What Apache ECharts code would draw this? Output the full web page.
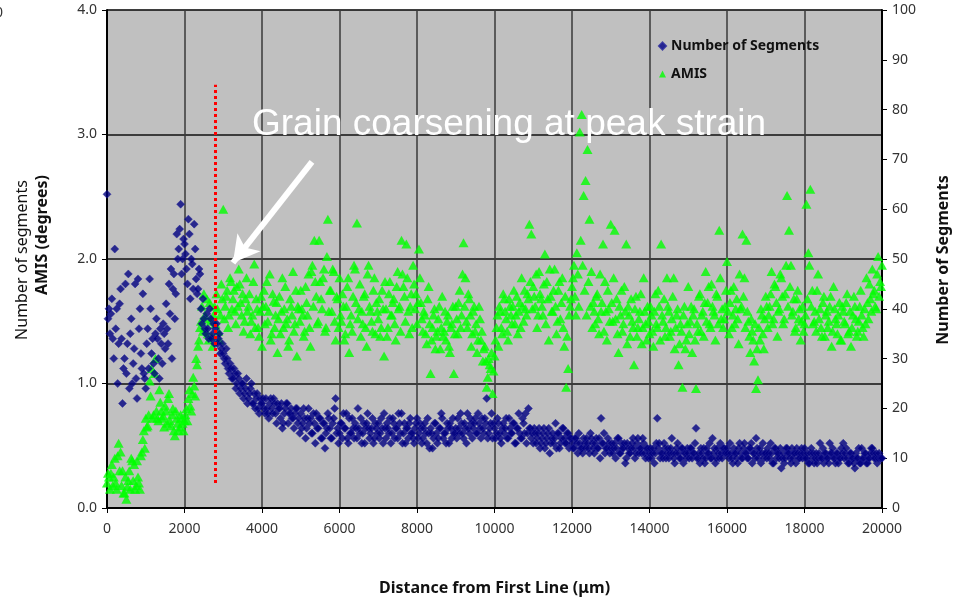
<!DOCTYPE html>
<html>
<head>
<meta charset="utf-8">
<script src="https://cdn.jsdelivr.net/npm/echarts@6/dist/echarts.min.js"></script>
<style>html,body{margin:0;padding:0;background:#fff;}#c{width:967px;height:601px;}</style>
</head>
<body>
<div id="c"></div>
<script>
// Sampling: two interleaved passes, every STEP_UM starting at 0 and at HALF_OFFSET_UM
const STEP_UM = 50;
const HALF_OFFSET_UM = 25;
const xTicks = [0,2000,4000,6000,8000,10000,12000,14000,16000,18000,20000];
const leftTicks = ['0.0','1.0','2.0','3.0','4.0'];
const rightTicks = [0,10,20,30,40,50,60,70,80,90,100];

// Number of Segments (right axis), pass A: x = 0, 50, 100 ...
const segmentsA = [
63,40,39,34,52,40,33,44,21,30,27,47,35,25,32,26,46,40,28,27,
24,36,46,31,29,35,34,26,33,37,32,36,45,48,44,38,55,52,61,50,
53,48,58,42,49,57,46,44,47,37,38,35,36,40,34,37,36,33,35,32,
31,29,30,27,28,26,27,25,26,24,25,23,26,22,24,21,23,22,20,22,
21,20,22,19,21,20,22,19,21,20,21,17,20,21,19,20,18,19,20,18,
19,17,18,16,20,18,15,17,19,16,18,14,17,15,19,16,14,18,22,16,
15,17,19,16,14,18,15,16,17,14,16,18,15,13,17,16,15,18,14,16,
17,15,16,19,14,16,18,15,17,16,14,17,19,15,13,16,17,15,14,16,
18,15,16,14,17,13,15,16,12,17,15,14,16,18,15,13,16,17,14,15,
16,18,15,17,14,16,19,15,17,16,18,15,17,14,16,18,22,15,17,14,
16,15,17,14,16,15,18,14,16,15,17,13,16,15,14,17,19,15,16,14,
13,15,14,16,13,15,12,14,16,13,15,14,12,15,13,16,14,13,15,14,
13,12,14,11,13,12,14,12,13,11,14,12,13,12,14,18,13,11,12,13,
12,11,13,12,14,11,12,13,10,12,11,13,12,11,14,12,11,13,10,12,
11,10,12,11,18,13,11,10,12,11,10,12,11,9,12,11,10,12,11,10,
11,12,10,11,16,10,9,11,12,10,11,13,10,11,9,12,10,11,12,11,
12,10,11,9,11,10,12,11,10,13,11,10,12,9,11,14,10,12,11,10,
11,12,10,11,9,12,11,10,8,11,10,12,11,9,10,11,12,10,11,10,
12,10,9,11,10,9,11,10,13,10,9,11,10,13,11,10,9,11,10,12,
13,11,10,9,11,10,8,10,12,9,10,11,9,10,11,12,10,11,10,10,
10
];
// Number of Segments, pass B: x = 25, 75, 125 ...
const segmentsB = [
38,35,42,30,36,25,41,34,28,45,33,24,38,29,45,22,36,31,43,26,
33,28,40,34,27,38,30,36,29,35,41,33,39,30,47,43,50,56,47,54,
51,45,55,50,44,52,43,48,40,42,36,39,34,38,35,33,37,34,31,33,
30,32,28,29,26,28,24,27,23,25,22,24,21,23,25,21,20,23,19,21,
22,19,20,18,22,19,21,17,20,18,16,19,21,17,19,18,16,20,17,15,
16,20,14,18,17,15,19,13,16,18,14,17,12,16,18,14,17,20,15,13,
17,14,16,19,13,15,18,14,16,20,15,13,17,16,19,14,16,13,17,15,
14,18,13,16,17,15,13,18,14,16,19,15,13,17,16,14,18,15,13,17,
14,17,13,16,15,18,12,15,14,17,13,16,19,14,15,17,13,16,18,15,
14,16,19,15,17,13,16,18,14,17,15,19,16,18,15,17,14,16,19,17,
14,18,15,13,17,16,14,18,15,17,13,16,19,14,18,15,13,20,16,15,
16,13,15,12,14,16,13,15,11,14,13,17,15,12,14,16,13,15,12,14,
12,14,13,15,12,11,13,14,12,15,13,11,14,12,10,13,15,12,14,11,
13,12,10,14,11,13,12,9,13,11,12,14,10,13,11,12,14,11,12,10,
12,11,9,13,12,10,11,13,10,12,11,14,10,11,13,10,12,9,11,12,
10,12,11,13,10,11,12,10,9,12,11,10,14,12,10,11,13,10,12,11,
11,13,10,12,11,9,13,10,12,11,10,12,13,11,10,12,11,9,13,11,
10,11,13,9,12,10,11,12,10,9,12,11,10,12,11,9,11,10,12,11,
10,11,9,12,11,10,9,11,10,12,11,10,9,11,12,10,11,9,10,11,
10,12,9,11,10,9,11,10,9,12,10,11,9,10,12,11,10,9,11,10
];

// AMIS in degrees (left axis), pass A: x = 0, 50, 100 ...
const amisA = [
0.20,0.25,0.28,0.18,0.40,0.15,0.52,0.45,0.30,0.12,0.07,0.22,0.15,0.38,0.35,0.18,0.25,0.15,0.45,0.62,
0.72,0.66,1.02,1.12,0.75,1.20,0.72,0.95,0.78,0.74,0.82,0.68,0.92,0.66,0.80,0.58,0.72,0.62,0.75,0.68,
0.70,0.80,0.88,0.82,0.92,0.98,1.20,1.30,1.45,1.62,1.72,1.52,1.40,1.65,1.38,1.55,1.48,1.60,1.35,1.80,
2.40,1.62,1.75,1.55,1.82,1.68,1.58,1.78,1.92,1.65,1.72,1.50,1.85,1.62,1.40,1.55,1.96,1.68,1.45,1.58,
1.30,1.75,1.62,1.50,1.88,1.40,1.66,1.55,1.25,1.70,1.58,1.45,1.78,1.52,1.35,1.62,1.90,1.48,1.22,1.60,
1.75,1.55,1.42,1.65,1.88,1.30,1.95,2.15,1.70,1.50,1.82,1.60,1.92,1.45,2.32,1.75,1.58,1.90,1.35,1.68,
1.85,1.50,1.62,1.40,1.78,1.25,1.55,1.70,1.92,2.29,1.60,1.38,1.48,1.72,1.30,1.95,1.58,1.42,1.85,1.65,
1.52,1.38,1.75,1.22,1.60,1.45,1.82,1.55,1.68,1.35,1.90,1.62,2.15,1.78,1.50,1.85,1.40,1.72,1.95,1.60,
1.48,2.08,1.65,1.42,1.55,1.32,1.78,1.08,1.45,1.60,1.38,1.52,1.28,1.70,1.42,1.35,1.55,1.25,1.48,1.08,
1.62,1.40,1.75,1.55,2.13,1.85,1.45,1.68,1.30,1.58,1.42,1.25,1.62,1.35,1.18,1.30,0.97,1.20,1.12,0.92,
1.22,1.45,1.30,1.58,1.40,1.68,1.52,1.35,1.62,1.48,1.75,1.55,1.40,1.65,1.85,1.50,1.60,1.72,2.28,2.20,
1.78,1.62,1.45,1.90,1.68,1.55,2.04,1.82,1.35,1.70,1.58,1.92,1.40,1.75,1.52,1.85,1.30,0.97,1.12,1.62,
1.78,1.95,1.55,1.88,3.02,3.16,2.51,2.63,2.88,2.32,1.90,1.65,1.48,1.72,1.40,1.58,2.12,1.82,1.35,1.60,
2.28,1.50,2.23,1.68,1.25,1.55,1.42,1.78,2.12,1.62,1.38,1.50,1.15,1.70,1.45,1.58,1.32,1.85,1.48,1.62,
1.40,1.55,1.30,1.72,1.45,1.62,2.12,1.50,1.38,1.85,1.58,1.42,1.70,1.28,1.55,1.15,1.48,0.97,1.62,1.35,
1.78,1.50,1.25,1.60,0.96,1.42,1.72,1.55,1.38,1.90,1.65,1.48,1.80,1.58,1.35,1.70,2.23,1.52,1.45,1.62,
1.98,1.40,1.75,1.55,1.48,1.68,1.32,1.60,2.20,1.85,2.15,1.50,1.25,1.42,1.18,0.96,1.03,1.35,1.55,1.28,
1.70,1.45,1.62,1.90,1.52,1.78,1.38,1.60,1.85,1.48,1.72,2.51,2.23,1.95,1.58,1.42,1.68,1.52,1.35,1.62,
1.48,2.44,2.05,2.56,1.75,1.50,1.42,1.88,1.60,1.38,1.70,1.55,1.45,1.62,1.30,1.78,1.52,1.40,1.65,1.35,
1.58,1.48,1.72,1.42,1.30,1.55,1.62,1.38,1.50,1.75,1.45,1.60,1.85,1.52,1.68,1.92,1.75,1.60,2.02,1.82,
1.95
];
// AMIS, pass B: x = 25, 75, 125 ...
const amisB = [
0.28,0.15,0.35,0.25,0.20,0.42,0.30,0.18,0.12,0.25,0.17,0.30,0.40,0.22,0.15,0.38,0.20,0.42,0.55,0.48,
0.65,0.75,0.90,0.72,1.08,0.78,0.70,0.85,0.72,0.65,0.78,0.88,0.70,0.75,0.62,0.78,0.68,0.65,0.72,0.62,
0.75,0.70,0.95,0.78,1.05,0.90,1.15,1.35,1.50,1.42,1.55,1.68,1.35,1.50,1.30,1.62,1.72,1.42,1.55,1.68,
1.52,1.70,1.45,1.85,1.60,1.75,1.48,1.62,1.80,1.55,1.42,1.68,1.58,1.72,1.50,1.82,1.45,1.60,1.38,1.70,
1.62,1.48,1.82,1.58,1.35,1.72,1.45,1.65,1.52,1.40,1.85,1.60,1.48,1.30,1.68,1.55,1.42,1.75,1.62,1.50,
1.60,1.38,1.78,1.55,1.45,1.90,1.62,1.82,1.48,2.15,1.68,1.85,1.42,2.02,1.58,1.75,1.92,1.50,1.70,1.45,
1.55,1.72,1.35,1.62,1.85,1.48,1.42,1.95,1.65,1.52,1.80,1.58,1.70,1.45,1.88,1.62,1.50,1.75,1.40,1.58,
1.68,1.45,1.60,1.82,1.38,1.72,1.55,1.65,1.48,1.78,1.60,1.42,1.88,1.70,2.12,1.58,1.62,1.45,1.80,1.72,
1.65,1.85,1.52,1.58,1.40,1.68,1.48,1.35,1.55,1.28,1.42,1.62,1.45,1.38,1.58,1.50,1.30,1.45,1.62,1.40,
1.52,1.65,1.45,1.88,1.62,1.50,1.72,1.55,1.40,1.62,1.48,1.35,1.52,1.42,1.28,1.18,1.05,1.15,1.25,1.10,
1.35,1.55,1.62,1.45,1.72,1.58,1.42,1.68,1.55,1.62,1.48,1.70,1.58,1.45,1.62,1.75,1.55,1.68,1.82,1.60,
1.70,1.88,1.55,1.72,1.62,1.80,1.48,1.68,1.92,1.58,1.75,1.62,1.50,1.82,1.65,1.45,1.70,1.38,1.55,1.68,
1.85,1.70,2.05,1.62,2.15,1.95,1.75,1.55,1.82,1.62,1.45,1.58,1.70,1.52,1.88,1.65,1.42,1.58,1.75,1.50,
1.65,1.85,1.52,1.40,1.62,1.75,1.48,1.58,1.32,1.55,1.68,1.45,1.60,1.38,1.52,1.72,1.45,1.58,1.35,1.50,
1.62,1.42,1.58,1.48,1.75,1.35,1.55,1.68,1.45,1.62,1.38,1.52,1.85,1.45,1.60,1.32,1.42,1.55,1.28,1.48,
1.40,1.62,1.55,1.35,1.48,1.70,1.42,1.58,1.65,1.50,1.78,1.45,1.62,1.55,1.72,1.48,1.85,1.60,1.52,1.75,
1.58,1.65,1.45,1.78,1.60,1.52,1.88,1.62,1.70,1.45,1.58,1.38,1.52,1.35,1.48,1.28,1.45,1.60,1.40,1.52,
1.62,1.55,1.72,1.48,1.80,1.65,1.58,1.88,1.70,1.52,1.95,1.62,1.78,1.55,1.68,1.45,1.75,1.60,1.50,1.42,
1.55,1.68,1.95,1.62,1.48,1.58,1.75,1.52,1.45,1.65,1.38,1.58,1.50,1.70,1.42,1.60,1.48,1.55,1.35,1.62,
1.50,1.65,1.40,1.58,1.45,1.70,1.52,1.42,1.62,1.55,1.38,1.48,1.65,1.80,1.58,1.72,1.62,1.88,1.70,1.78
];

// Annotation marks (data coordinates)
const peakStrainX = 2800;
const peakStrainRange = [0.2, 3.4];
const arrowFrom = [5290, 2.78];
const arrowTo = [3250, 1.97];

function pairs(a, b) {
  const out = [];
  a.forEach((v, i) => out.push([i * STEP_UM, v]));
  b.forEach((v, i) => out.push([HALF_OFFSET_UM + i * STEP_UM, v]));
  return out.sort((p, q) => p[0] - q[0]);
}
const segData = pairs(segmentsA, segmentsB);
const amisData = pairs(amisA, amisB);

const chart = echarts.init(document.getElementById('c'), null, {renderer: 'canvas'});
const FONT = '"Noto Sans", "Open Sans", sans-serif';

chart.setOption({
  animation: false,
  backgroundColor: '#ffffff',
  grid: {left: 107, right: 85, top: 10, bottom: 93, show: true, backgroundColor: '#c0c0c0', borderColor: '#8c8c8c', borderWidth: 1},
  legend: {
    data: [
      {name: 'Number of Segments', icon: 'diamond', itemStyle: {color: '#000080'}},
      {name: 'AMIS', icon: 'triangle', itemStyle: {color: '#00ff00'}}
    ],
    orient: 'vertical', left: 653, top: 34, itemWidth: 7, itemHeight: 7, itemGap: 14,
    textStyle: {fontFamily: FONT, fontWeight: 'bold', fontSize: 14, color: '#111'}
  },
  xAxis: {
    type: 'value', min: 0, max: 20000, interval: 2000,
    axisLine: {lineStyle: {color: '#000', width: 2}},
    axisTick: {show: true, length: 5, lineStyle: {color: '#000'}},
    axisLabel: {fontFamily: FONT, fontSize: 14, color: '#333', margin: 14, formatter: v => String(xTicks[Math.round(v / 2000)])},
    splitLine: {show: true, lineStyle: {color: '#3a3a3a', width: 1.5}},
    name: 'Distance from First Line (\u03bcm)', nameLocation: 'middle', nameGap: 72,
    nameTextStyle: {fontFamily: FONT, fontWeight: 'bold', fontSize: 16, color: '#111'}
  },
  yAxis: [
    {
      type: 'value', min: 0, max: 4, interval: 1, position: 'left',
      axisLine: {show: true, lineStyle: {color: '#000', width: 2}},
      axisTick: {show: true, length: 5, lineStyle: {color: '#000'}},
      axisLabel: {fontFamily: FONT, fontSize: 14, color: '#333', margin: 10, formatter: v => leftTicks[Math.round(v)]},
      splitLine: {show: true, lineStyle: {color: '#111', width: 1.5}}
    },
    {
      type: 'value', min: 0, max: 100, interval: 10, position: 'right',
      axisLine: {show: true, lineStyle: {color: '#000', width: 2}},
      axisTick: {show: true, length: 5, lineStyle: {color: '#000'}},
      axisLabel: {fontFamily: FONT, fontSize: 14, color: '#333', margin: 10, formatter: v => String(rightTicks[Math.round(v / 10)])},
      splitLine: {show: false}
    }
  ],
  series: [
    {
      name: 'AMIS', type: 'scatter', yAxisIndex: 0, data: amisData,
      symbol: 'triangle', symbolSize: [10, 9], itemStyle: {color: '#00ff00'}, z: 3,
      markLine: {
        silent: true, symbol: ['none', 'none'], label: {show: false}, animation: false,
        data: [
          [{coord: [peakStrainX, peakStrainRange[0]], lineStyle: {color: '#ff0000', width: 3, type: [3, 3]}},
           {coord: [peakStrainX, peakStrainRange[1]]}]
        ]
      }
    },
    {
      name: 'Number of Segments', type: 'scatter', yAxisIndex: 1, data: segData,
      symbol: 'diamond', symbolSize: 8, itemStyle: {color: '#000080', borderColor: '#22229a', borderWidth: 0.6}, z: 4
    },
    {
      name: 'arrow', type: 'line', yAxisIndex: 0, data: [], z: 10,
      markLine: {
        silent: true, symbol: ['none', 'arrow'], symbolSize: [22, 26], label: {show: false}, animation: false,
        lineStyle: {color: '#ffffff', width: 6, type: 'solid'},
        data: [[{coord: arrowFrom}, {coord: arrowTo}]]
      }
    }
  ],
  graphic: [
    {type: 'text', left: 252, top: 106, z: 20, style: {text: 'Grain coarsening at peak strain', fill: '#ffffff', font: '37px "Liberation Sans", Arial, sans-serif'}},
    {type: 'text', x: 22, y: 260, rotation: Math.PI / 2, z: 20, style: {text: 'Number of segments', fill: '#111', font: '16px "Noto Sans", sans-serif', textAlign: 'center', textVerticalAlign: 'middle'}},
    {type: 'text', x: 42, y: 235, rotation: Math.PI / 2, z: 20, style: {text: 'AMIS (degrees)', fill: '#111', font: 'bold 16px "Noto Sans", sans-serif', textAlign: 'center', textVerticalAlign: 'middle'}},
    {type: 'text', x: 943, y: 260, rotation: Math.PI / 2, z: 20, style: {text: 'Number of Segments', fill: '#111', font: 'bold 16px "Noto Sans", sans-serif', textAlign: 'center', textVerticalAlign: 'middle'}},
    {type: 'text', left: -5, top: 6, z: 20, style: {text: '0', fill: '#333', font: '14px "Noto Sans", sans-serif'}}
  ]
});
</script>
</body>
</html>
